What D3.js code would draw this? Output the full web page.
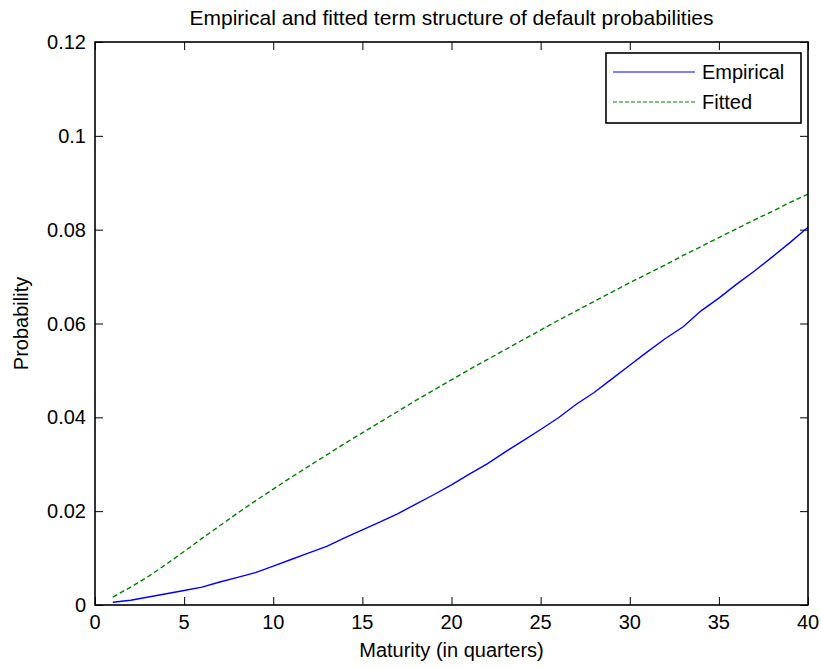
<html>
<head>
<style>
body { margin:0; background:#ffffff; }
svg { font-family: "Liberation Sans", Arial, sans-serif; }
</style>
<script src="https://d3js.org/d3.v7.min.js" charset="utf-8"></script>
</head>
<body>
<svg id="chart" width="821" height="668"></svg>
<script>

var quarters = d3.range(1, 41);
var empirical = [0.0006,0.0010,0.0017,0.0024,0.0031,0.0038,0.0049,0.0059,0.0069,0.0083,
	0.0097,0.0111,0.0125,0.0143,0.0160,0.0177,0.0195,0.0215,0.0235,0.0256,
	0.0279,0.0301,0.0326,0.0350,0.0374,0.0399,0.0428,0.0453,0.0482,0.0511,
	0.0540,0.0568,0.0593,0.0627,0.0654,0.0684,0.0712,0.0742,0.0773,0.0805];
var fitted = [0.0017,0.0038,0.0061,0.0087,0.0114,0.0142,0.0169,0.0196,0.0222,0.0247,
	0.0272,0.0296,0.0320,0.0344,0.0367,0.0390,0.0413,0.0436,0.0458,0.0480,
	0.0502,0.0523,0.0544,0.0565,0.0586,0.0607,0.0627,0.0647,0.0667,0.0687,
	0.0706,0.0725,0.0745,0.0764,0.0783,0.0802,0.0821,0.0839,0.0858,0.0876];
var xTicks = [0,5,10,15,20,25,30,35,40];
var yTicks = [0,0.02,0.04,0.06,0.08,0.1,0.12];
var seriesNames = ["Empirical","Fitted"];

// plot box (named so they don't clash with window.top)
var pL=95, pR=808, pT=42, pB=605;
var fs = "20px";
var svg = d3.select("#chart");
var xScale = d3.scaleLinear().domain([0,40]).range([pL,pR]);
var yScale = d3.scaleLinear().domain([0,0.12]).range([pB,pT]);

// ticks pointing inward, on all four sides like matlab
var tickLen = 8;
svg.append("g").attr("transform","translate(0,"+pB+")")
	.call(d3.axisTop(xScale).tickValues(xTicks).tickSize(tickLen).tickFormat(""));
svg.append("g").attr("transform","translate(0,"+pT+")")
	.call(d3.axisBottom(xScale).tickValues(xTicks).tickSize(tickLen).tickFormat(""));
svg.append("g").attr("transform","translate("+pL+",0)")
	.call(d3.axisRight(yScale).tickValues(yTicks).tickSize(tickLen).tickFormat(""));
svg.append("g").attr("transform","translate("+pR+",0)")
	.call(d3.axisLeft(yScale).tickValues(yTicks).tickSize(tickLen).tickFormat(""));
svg.selectAll(".domain").remove();
svg.selectAll(".tick line").attr("stroke","#000").attr("stroke-width",1);

// lines
var line = d3.line().x(function(d){return xScale(d[0]);}).y(function(d){return yScale(d[1]);});
svg.append("path").attr("d",line(d3.zip(quarters,empirical)))
	.attr("fill","none").attr("stroke","#0000ff").attr("stroke-width",1.4);
svg.append("path").attr("d",line(d3.zip(quarters,fitted)))
	.attr("fill","none").attr("stroke","#008000").attr("stroke-width",1.4).attr("stroke-dasharray","5,3");

svg.append("rect").attr("x",pL).attr("y",pT).attr("width",pR-pL).attr("height",pB-pT)
	.attr("fill","none").attr("stroke","#000").attr("stroke-width",1.6);

// labels
svg.selectAll(".xl").data(xTicks).enter().append("text")
	.attr("x",function(d){return xScale(d);}).attr("y",pB+24)
	.attr("text-anchor","middle").style("font-size",fs).text(function(d){return d;});
svg.selectAll(".yl").data(yTicks).enter().append("text")
	.attr("x",pL-9).attr("y",function(d){return yScale(d)+7;})
	.attr("text-anchor","end").style("font-size",fs).text(function(d){return d;});

svg.append("text").attr("x",(pL+pR)/2).attr("y",25).attr("text-anchor","middle")
	.style("font-size","21px").text("Empirical and fitted term structure of default probabilities");
svg.append("text").attr("x",(pL+pR)/2).attr("y",657).attr("text-anchor","middle")
	.style("font-size",fs).text("Maturity (in quarters)");
svg.append("text").attr("transform","translate(28,"+((pT+pB)/2)+")rotate(-90)")
	.attr("text-anchor","middle").style("font-size",fs).text("Probability");

// legend
var lg = svg.append("g");
lg.append("rect").attr("x",606).attr("y",53).attr("width",195).attr("height",70)
	.attr("fill","#fff").attr("stroke","#000").attr("stroke-width",1.6);
var styles = [{c:"#0000ff",dash:null},{c:"#008000",dash:"4,2"}];
seriesNames.forEach(function(n,i){
	var yy = 72 + i*30;
	lg.append("line").attr("x1",613).attr("x2",695).attr("y1",yy).attr("y2",yy)
		.attr("stroke",styles[i].c).attr("stroke-width",1.2).attr("stroke-dasharray",styles[i].dash);
	lg.append("text").attr("x",702).attr("y",yy+7).style("font-size",fs).text(n);
});

</script>
</body>
</html>
